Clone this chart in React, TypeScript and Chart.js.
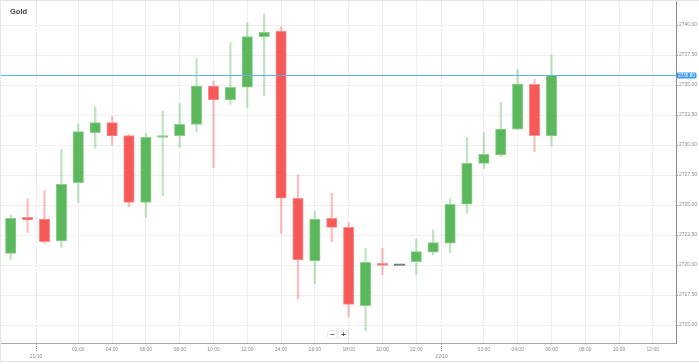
import React, { useEffect, useRef } from 'react';
import { Chart, registerables } from 'chart.js';

Chart.register(...registerables);

// ---- data ----
const times = [
  '20/10 22:00', '20/10 23:00',
  '21/10 00:00', '21/10 01:00', '21/10 02:00', '21/10 03:00', '21/10 04:00', '21/10 05:00',
  '21/10 06:00', '21/10 07:00', '21/10 08:00', '21/10 09:00', '21/10 10:00', '21/10 11:00',
  '21/10 12:00', '21/10 13:00', '21/10 14:00', '21/10 15:00', '21/10 16:00', '21/10 17:00',
  '21/10 18:00', '21/10 19:00', '21/10 20:00', '21/10 21:00', '21/10 22:00', '21/10 23:00',
  '22/10 00:00', '22/10 01:00', '22/10 02:00', '22/10 03:00', '22/10 04:00', '22/10 05:00',
  '22/10 06:00',
];
const opens = [
  2720.97, 2723.97, 2723.83, 2722.0, 2726.86, 2731.03, 2731.86, 2730.78, 2725.22, 2730.64,
  2730.78, 2731.72, 2734.92, 2733.75, 2734.81, 2739.03, 2739.5, 2725.56, 2720.33, 2723.89,
  2723.14, 2716.61, 2720.14, 2719.97, 2720.28, 2721.06, 2721.81, 2725.06, 2728.47, 2729.17,
  2731.31, 2735.06, 2730.75,
];
const highs = [
  2724.17, 2725.5, 2726.19, 2729.64, 2731.75, 2733.19, 2732.36, 2730.85, 2730.97, 2732.83,
  2733.47, 2737.22, 2735.33, 2738.53, 2740.19, 2740.92, 2739.86, 2727.5, 2724.44, 2725.97,
  2723.53, 2721.39, 2721.39, 2719.97, 2722.14, 2722.92, 2725.5, 2730.64, 2731.03, 2733.56,
  2736.33, 2735.47, 2737.5,
];
const lows = [
  2720.47, 2722.69, 2721.81, 2721.47, 2725.19, 2729.72, 2730.0, 2724.86, 2723.97, 2725.75,
  2729.78, 2731.11, 2728.11, 2733.39, 2733.11, 2734.08, 2722.64, 2717.17, 2718.42, 2721.94,
  2715.64, 2714.53, 2719.17, 2719.97, 2719.17, 2720.83, 2721.03, 2724.31, 2728.06, 2729.03,
  2731.3, 2729.44, 2729.94,
];
const closes = [
  2723.89, 2723.75, 2721.94, 2726.72, 2731.11, 2731.86, 2730.75, 2725.22, 2730.64, 2730.78,
  2731.72, 2734.92, 2733.75, 2734.81, 2739.03, 2739.39, 2725.56, 2720.42, 2723.83, 2723.14,
  2716.72, 2720.22, 2719.97, 2719.97, 2721.11, 2721.86, 2725.06, 2728.47, 2729.22, 2731.33,
  2735.08, 2730.78, 2735.8,
];
const yTicks = [2715, 2717.5, 2720, 2722.5, 2725, 2727.5, 2730, 2732.5, 2735, 2737.5, 2740];
const dayLabels = ['21/10', '22/10'];
const title = 'Gold';

// ---- helpers ----
const FONT = '"Liberation Sans", Arial, sans-serif';
const GREEN = '#5cb85c';
const RED = '#f75858';
const DOJI = '#666666';

function hoursOf(t: string): number {
  const d = parseInt(t.slice(0, 2), 10);
  const h = parseInt(t.slice(6, 8), 10);
  return (d - 21) * 24 + h;
}
const pad2 = (n: number) => (n < 10 ? '0' : '') + n;

const X_MIN = -2.574;
const X_MAX = 37.37;

type TickDef = { value: number; label: string | string[]; isDay: boolean };
function buildXTicks(): TickDef[] {
  const out: TickDef[] = [];
  for (let h = 0; h <= X_MAX; h += 2) {
    if (h % 24 === 0) {
      out.push({ value: h - 0.5, label: ['', dayLabels[h / 24]], isDay: true });
    } else {
      out.push({ value: h, label: pad2(h % 24) + ':00', isDay: false });
    }
  }
  return out;
}

export default function App() {
  const ref = useRef<HTMLCanvasElement>(null);

  useEffect(() => {
    document.body.style.margin = '0';
    const canvas = ref.current;
    if (!canvas) return;

    const xs = times.map(hoursOf);
    const colorOf = (i: number) =>
      closes[i] > opens[i] ? GREEN : closes[i] < opens[i] ? RED : DOJI;
    const borderOf = (i: number) =>
      closes[i] > opens[i] ? '#8fcf8f' : closes[i] < opens[i] ? '#f99393' : DOJI;
    const wickOf = (i: number) =>
      closes[i] > opens[i]
        ? 'rgba(92,184,92,0.38)'
        : closes[i] < opens[i]
        ? 'rgba(247,88,88,0.38)'
        : 'rgba(0,0,0,0)';

    const xTicks = buildXTicks();
    const currentPrice = closes[closes.length - 1];

    const priceLine = {
      id: 'priceLine',
      afterDraw(chart: any) {
        const { ctx, chartArea, scales } = chart;
        const py = Math.round(scales.y.getPixelForValue(currentPrice));
        ctx.save();
        ctx.globalAlpha = 1;
        ctx.globalCompositeOperation = 'source-over';
        ctx.fillStyle = '#62b1f3';
        ctx.fillRect(chartArea.left, py, chartArea.right - chartArea.left, 1);
        const x0 = chartArea.right + 0.5;
        const w = 20;
        const h = 6;
        ctx.fillStyle = '#3d9cf0';
        ctx.beginPath();
        ctx.roundRect(x0, py + 0.5 - h / 2, w, h, 1.5);
        ctx.fill();
        ctx.fillStyle = '#ffffff';
        ctx.font = '4.6px ' + FONT;
        ctx.textAlign = 'center';
        ctx.textBaseline = 'middle';
        ctx.fillText(currentPrice.toFixed(2), x0 + w / 2, py + 0.8);
        ctx.restore();
      },
    };

    const isDay = (c: any) => c.index !== undefined && xTicks[c.index] && xTicks[c.index].isDay;

    const chart = new Chart(canvas, {
      type: 'bar',
      data: {
        datasets: [
          {
            label: 'body',
            order: 0,
            data: xs.map((x, i) => ({ x, y: [opens[i], closes[i]] })) as any,
            backgroundColor: xs.map((_, i) => colorOf(i)),
            borderColor: xs.map((_, i) => borderOf(i)),
            borderWidth: 1,
            borderSkipped: false,
            grouped: false,
            barPercentage: 1,
            categoryPercentage: 1,
            maxBarThickness: 10.5,
            minBarLength: 1.6,
          } as any,
          {
            label: 'wick',
            order: 1,
            data: xs.map((x, i) => ({ x, y: [lows[i], highs[i]] })) as any,
            backgroundColor: xs.map((_, i) => wickOf(i)),
            borderWidth: 0,
            grouped: false,
            barPercentage: 1,
            categoryPercentage: 1,
            maxBarThickness: 1.6,
          } as any,
        ],
      },
      options: {
        animation: false,
        responsive: false,
        events: [],
        layout: { padding: 0 },
        plugins: {
          legend: { display: false },
          tooltip: { enabled: false },
        },
        scales: {
          x: {
            type: 'linear',
            min: X_MIN,
            max: X_MAX,
            offset: false,
            afterBuildTicks: (s: any) => {
              s.ticks = xTicks.map((t) => ({ value: t.value }));
            },
            afterFit: (s: any) => {
              s.height = 18;
              s.paddingLeft = 0;
              s.paddingRight = 0;
              s.paddingTop = 0;
              s.paddingBottom = 0;
            },
            grid: {
              offset: false,
              color: (c: any) => (isDay(c) ? '#dcdcdc' : '#efefef'),
              lineWidth: 1,
              drawTicks: true,
              tickLength: 9,
              tickColor: (c: any) => (isDay(c) ? '#9a9a9a' : 'rgba(0,0,0,0)'),
              tickBorderDash: [1, 1],
            },
            border: {
              color: '#a8a8a8',
              dash: (c: any) => (isDay(c) ? [2, 2] : []),
            } as any,
            ticks: {
              autoSkip: false,
              maxRotation: 0,
              minRotation: 0,
              padding: -5.5,
              color: '#8a8a8a',
              font: { family: FONT, size: 5, lineHeight: 1.4 },
              callback: (_v: any, i: number) => (xTicks[i] ? xTicks[i].label : ''),
            },
          } as any,
          y: {
            position: 'right',
            min: 2713.5,
            max: 2742,
            afterBuildTicks: (s: any) => {
              s.ticks = yTicks.map((v) => ({ value: v }));
            },
            afterFit: (s: any) => {
              s.width = 23;
              s.paddingLeft = 0;
              s.paddingRight = 0;
              s.paddingTop = 0;
              s.paddingBottom = 0;
            },
            grid: {
              color: '#efefef',
              lineWidth: 1,
              drawTicks: true,
              tickLength: 2,
              tickColor: '#a0a0a0',
            },
            border: { color: '#8c8c8c' },
            ticks: {
              padding: 1,
              color: '#8a8a8a',
              font: { family: FONT, size: 5 },
              callback: (v: any) => Number(v).toFixed(2),
            },
          } as any,
        },
      },
      plugins: [priceLine],
    });

    return () => chart.destroy();
  }, []);

  const btn: React.CSSProperties = {
    position: 'absolute',
    top: 330,
    width: 9,
    height: 7,
    background: '#fff',
    boxShadow: '0 0 1.5px rgba(0,0,0,0.35)',
    borderRadius: 1,
    fontFamily: FONT,
    fontSize: 8,
    lineHeight: '7px',
    textAlign: 'center',
    color: '#555',
    fontWeight: 'bold',
  };

  return (
    <div
      style={{
        position: 'relative',
        width: 699,
        height: 362,
        boxSizing: 'border-box',
        borderTop: '1px solid #e6e6e6',
        borderLeft: '1px solid #e6e6e6',
        borderBottom: '1px solid #e2e2e2',
        background: '#fff',
      }}
    >
      <canvas ref={ref} width={698} height={360} style={{ display: 'block' }} />
      <div
        style={{
          position: 'absolute',
          left: 9,
          top: 6,
          fontFamily: FONT,
          fontWeight: 'bold',
          fontSize: 7.5,
          lineHeight: '10px',
          color: '#444',
        }}
      >
        {title}
      </div>
      <div style={{ ...btn, left: 327 }}>−</div>
      <div style={{ ...btn, left: 338 }}>+</div>
    </div>
  );
}
